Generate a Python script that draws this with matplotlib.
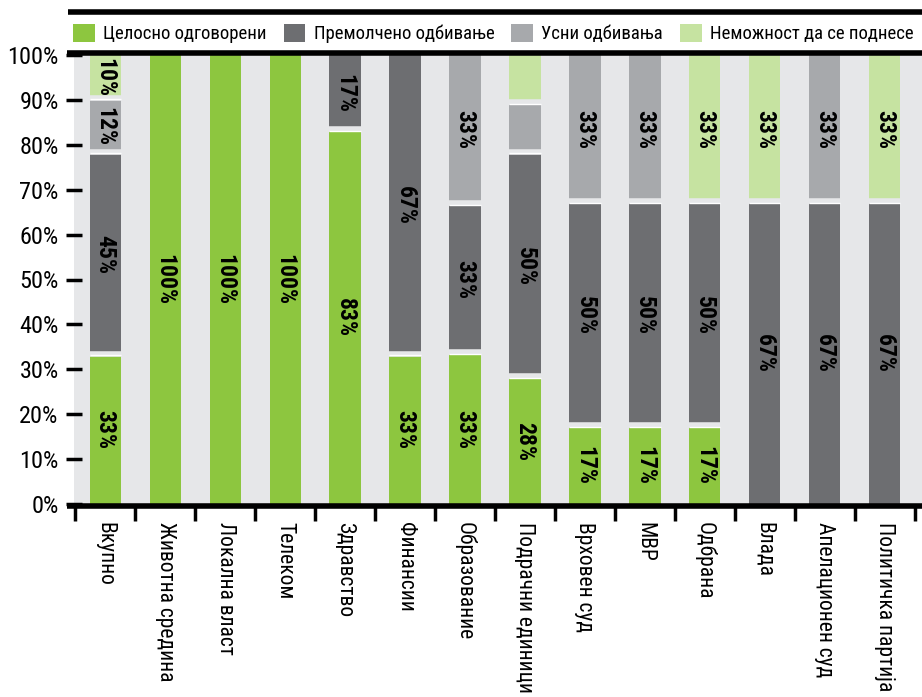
import numpy as np
import matplotlib.pyplot as plt
from matplotlib.lines import Line2D

plt.rcParams['font.family'] = ['Roboto Condensed', 'DejaVu Sans']
plt.rcParams['font.stretch'] = 'condensed'

categories = ['Вкупно', 'Животна средина', 'Локална власт', 'Телеком', 'Здравство',
              'Финансии', 'Образование', 'Подрачни единици', 'Врховен суд', 'МВР',
              'Одбрана', 'Влада', 'Апелационен суд', 'Политичка партија']

series_names = ['Целосно одговорени', 'Премолчено одбивање', 'Усни одбивања',
                'Неможност да се поднесе']

answered = [33, 100, 100, 100, 83, 33, 33.3, 28, 17, 17, 17, 0, 0, 0]
silent = [45, 0, 0, 0, 17, 67, 33.3, 50, 50, 50, 50, 67, 67, 67]
oral = [12, 0, 0, 0, 0, 0, 33.4, 11, 33, 33, 0, 0, 33, 0]
unable = [10, 0, 0, 0, 0, 0, 0, 11, 0, 0, 33, 33, 0, 33]

# segments of Подрачни единици carry no printed value
hide_label = {(7, 2), (7, 3)}

colors = ['#8dc63f', '#6d6e71', '#a7a9ac', '#c6e3a1']
bg = '#e6e7e9'

data = np.array([answered, silent, oral, unable], dtype=float)
x = np.arange(len(categories))

fig = plt.figure(figsize=(9.22, 6.97), dpi=100)
ax = fig.add_axes([74 / 922, 193 / 697, 848 / 922, 449 / 697])
ax.set_facecolor(bg)

bottom = np.zeros(len(categories))
handles = []
for k, vals in enumerate(data):
    b = ax.bar(x, vals, 0.52, bottom=bottom, color=colors[k], linewidth=0,
               label=series_names[k], zorder=2)
    handles.append(b)
    for i, v in enumerate(vals):
        if v > 0 and (i, k) not in hide_label:
            ax.text(i, bottom[i] + v / 2, f'{v:.0f}%', rotation=270,
                    ha='center', va='center', fontsize=17, fontweight='bold',
                    color='black', zorder=4)
    bottom += vals

# thin gaps between stacked segments
cum = np.cumsum(data, axis=0)
for k in range(len(data) - 1):
    for i in range(len(categories)):
        if data[k, i] > 0 and cum[k, i] < 99.5:
            ax.plot([i - 0.26, i + 0.26], [cum[k, i] + 0.5] * 2, color=bg,
                    lw=4, solid_capstyle='butt', zorder=3)
            ax.plot([i - 0.26, i + 0.26], [cum[k, i] + 0.1] * 2, color='white',
                    lw=1, solid_capstyle='butt', zorder=3)

ax.set_xlim(-0.52, 13.62)
ax.set_ylim(0, 100)

ax.set_yticks(np.arange(0, 101, 10))
ax.set_yticklabels([f'{v}%' for v in range(0, 101, 10)], fontsize=17.5)
ax.tick_params(axis='y', direction='inout', length=11, width=2.5, pad=5.5,
               color='black')

ax.set_xticks(np.arange(-0.5, 13.6, 1), minor=True)
ax.set_xticks(x)
ax.set_xticklabels(categories, rotation=270, fontsize=15.5, va='top', ha='center')
ax.tick_params(axis='x', which='major', length=0, pad=13)
ax.tick_params(axis='x', which='minor', direction='out', length=12, width=2.5,
               color='black')

for s in ['left', 'right', 'top', 'bottom']:
    ax.spines[s].set_visible(False)
ax.plot([-0.008, 1], [-0.005, -0.005], transform=ax.transAxes, color='black', lw=4,
        clip_on=False, zorder=5, solid_capstyle='butt')
ax.plot([-0.008, 1], [1.005, 1.005], transform=ax.transAxes, color='black', lw=4,
        clip_on=False, zorder=5, solid_capstyle='butt')
fig.add_artist(Line2D([68 / 922, 1], [1 - 12 / 697] * 2, color='black', lw=4,
                      solid_capstyle='butt'))

leg = ax.legend(handles=handles, loc='center left', ncol=4, frameon=False,
                bbox_to_anchor=(-0.001, 1.048), fontsize=13.5,
                handlelength=1.17, handleheight=1.17, handletextpad=0.43,
                columnspacing=0.9, borderaxespad=0, borderpad=0)

fig.savefig('out.png', dpi=100)
